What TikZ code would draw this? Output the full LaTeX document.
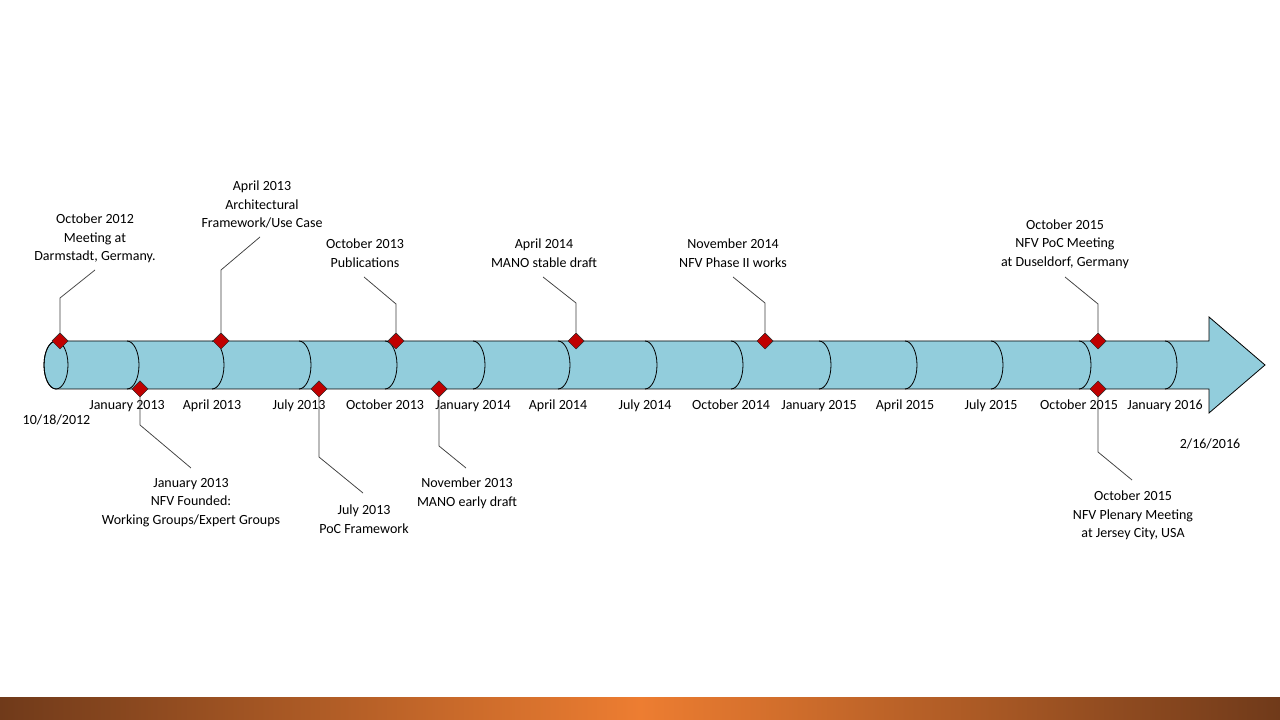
\documentclass[tikz,border=0pt]{standalone}
\usepackage{fontspec}
\setmainfont{Carlito}
\usetikzlibrary{shapes.geometric}
\definecolor{cylfill}{RGB}{146,205,220}
\definecolor{msred}{RGB}{192,0,0}
\definecolor{barbrown}{RGB}{112,58,26}
\definecolor{barorange}{RGB}{237,125,49}
\tikzset{
  lbl/.style={inner sep=0pt, align=center, font=\fontsize{14}{18.5}\selectfont},
  scalelbl/.style={lbl, anchor=base},
  milestone/.style={diamond, draw=black!80, fill=msred, line width=0.5pt, minimum width=16pt, minimum height=16pt, inner sep=0pt},
  leader/.style={draw=black!75, line width=0.75pt},
  outline/.style={draw=black, line width=0.8pt}
}
\begin{document}
\begin{tikzpicture}[x=1pt,y=1pt]
\fill[white] (0,0) rectangle (1280,720);
\useasboundingbox (0,0) rectangle (1280,720);
% bottom bar
\shade[left color=barbrown, right color=barbrown, middle color=barorange] (0,0) rectangle (1280,22);
% timeline body
\path[outline, fill=cylfill] (56,379) -- (1209,379) -- (1209,403) -- (1265,355) -- (1209,307) -- (1209,331) -- (56,331)
  arc[start angle=270, end angle=90, x radius=12, y radius=24] -- cycle;
\draw[outline] (56,355) ellipse [x radius=12, y radius=24];
\foreach \xc in {127,212,299,385,473,558,645,731,819,905,991,1079,1165}
  \draw[outline] (\xc,379) arc[start angle=90, end angle=-90, x radius=12, y radius=24];
% scale labels
\node[scalelbl] (m1) at (127,310.5) {January 2013};
\node[scalelbl] (m2) at (212,310.5) {April 2013};
\node[scalelbl] (m3) at (299,310.5) {July 2013};
\node[scalelbl] (m4) at (385,310.5) {October 2013};
\node[scalelbl] (m5) at (473,310.5) {January 2014};
\node[scalelbl] (m6) at (558,310.5) {April 2014};
\node[scalelbl] (m7) at (645,310.5) {July 2014};
\node[scalelbl] (m8) at (731,310.5) {October 2014};
\node[scalelbl] (m9) at (819,310.5) {January 2015};
\node[scalelbl] (m10) at (905,310.5) {April 2015};
\node[scalelbl] (m11) at (991,310.5) {July 2015};
\node[scalelbl] (m12) at (1079,310.5) {October 2015};
\node[scalelbl] (m13) at (1165,310.5) {January 2016};
\node[scalelbl] (start) at (56.5,295.5) {10/18/2012};
\node[scalelbl] (end) at (1210,271.5) {2/16/2016};
% top milestones
\node[milestone] (d1) at (60,379) {};
\coordinate (b1) at (60,422); \coordinate (e1) at (95,450);
\node[lbl] (t1) at (95,481.5) {October 2012\\Meeting at\\Darmstadt, Germany.};
\node[milestone] (d2) at (221,379) {};
\coordinate (b2) at (221,450); \coordinate (e2) at (260,483);
\node[lbl] (t2) at (262,515.5) {April 2013\\Architectural\\Framework/Use Case};
\node[milestone] (d3) at (396,379) {};
\coordinate (b3) at (396,416); \coordinate (e3) at (364,443);
\node[lbl] (t3) at (365,467) {October 2013\\Publications};
\node[milestone] (d4) at (576,379) {};
\coordinate (b4) at (576,417); \coordinate (e4) at (543,443);
\node[lbl] (t4) at (544,467) {April 2014\\MANO stable draft};
\node[milestone] (d5) at (765,379) {};
\coordinate (b5) at (765,417); \coordinate (e5) at (733,443);
\node[lbl] (t5) at (733,467) {November 2014\\NFV Phase II works};
\node[milestone] (d6) at (1098,379) {};
\coordinate (b6) at (1098,416); \coordinate (e6) at (1065,443);
\node[lbl] (t6) at (1065,476) {October 2015\\NFV PoC Meeting\\at Duseldorf, Germany};
% bottom milestones
\node[milestone] (d7) at (140,331) {};
\coordinate (b7) at (140,295); \coordinate (e7) at (191,252);
\node[lbl] (t7) at (191,217.5) {January 2013\\NFV Founded:\\Working Groups/Expert Groups};
\node[milestone] (d8) at (319,331) {};
\coordinate (b8) at (319,263); \coordinate (e8) at (363,227);
\node[lbl] (t8) at (364,201) {July 2013\\PoC Framework};
\node[milestone] (d9) at (439,331) {};
\coordinate (b9) at (439,274); \coordinate (e9) at (466,252);
\node[lbl] (t9) at (467,226.5) {November 2013\\MANO early draft};
\node[milestone] (d10) at (1098,331) {};
\coordinate (b10) at (1098,268); \coordinate (e10) at (1132,240);
\node[lbl] (t10) at (1133,204.5) {October 2015\\NFV Plenary Meeting\\at Jersey City, USA};
% leaders
\foreach \i in {1,...,6} \draw[leader] (d\i.north) -- (b\i) -- (e\i);
\foreach \i in {7,...,10} \draw[leader] (d\i.south) -- (b\i) -- (e\i);
% redraw diamonds on top
\foreach \i in {1,...,10} \node[milestone] at (d\i) {};
\end{tikzpicture}
\end{document}
